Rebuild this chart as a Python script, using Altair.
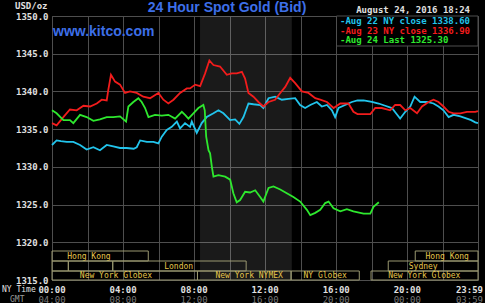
import altair as alt
import pandas as pd

# ---------------- data ----------------
aug22_h = [0.0, 0.26, 0.5, 0.83, 1.2, 1.58, 1.95, 2.33, 2.7, 3.08, 3.45, 3.83, 4.2, 4.6, 4.77, 4.96,
           5.34, 5.71, 5.99, 6.18, 6.46, 6.74, 7.03, 7.21, 7.49, 7.77, 7.87, 8.15, 8.43, 8.71, 9.09,
           9.37, 9.65, 10.03, 10.31, 10.55, 10.78, 11.06, 11.34, 11.72, 11.9, 12.19, 12.56, 12.94,
           13.31, 13.69, 13.97, 14.25, 14.54, 14.91, 15.19, 15.48, 15.76, 15.94, 16.13, 16.5, 16.88,
           17.2, 17.54, 18.01, 18.39, 18.76, 19.14, 19.4, 19.6, 19.89, 20.17, 20.41, 20.73, 21.11,
           21.48, 21.76, 22.04, 22.33, 22.61, 22.99, 23.36, 23.6, 23.83, 23.98]
aug22_v = [1332.9, 1333.5, 1333.4, 1333.3, 1333.3, 1332.9, 1332.3, 1332.6, 1332.2, 1332.9, 1332.7,
           1332.5, 1332.5, 1332.4, 1332.6, 1333.5, 1333.3, 1333.3, 1333.1, 1334.0, 1334.9, 1335.3,
           1336.0, 1335.1, 1335.8, 1335.3, 1336.0, 1334.5, 1335.8, 1336.6, 1337.1, 1337.5, 1337.1,
           1336.2, 1336.3, 1335.7, 1336.6, 1338.4, 1338.3, 1338.2, 1337.8, 1339.1, 1339.3, 1338.9,
           1339.0, 1339.1, 1338.2, 1337.8, 1338.2, 1338.6, 1338.0, 1338.2, 1337.5, 1336.6, 1337.8,
           1338.2, 1338.6, 1338.8, 1338.8, 1338.6, 1338.4, 1338.1, 1337.8, 1337.0, 1336.4, 1337.3,
           1338.0, 1339.3, 1338.6, 1338.6, 1338.4, 1338.0, 1337.5, 1336.6, 1336.9, 1336.7, 1336.4,
           1336.2, 1335.9, 1335.8]

aug23_h = [0.0, 0.26, 0.64, 1.01, 1.39, 1.77, 2.14, 2.52, 2.8, 3.08, 3.17, 3.32, 3.55, 3.83, 4.11,
           4.39, 4.77, 5.14, 5.52, 5.99, 6.27, 6.55, 6.84, 7.21, 7.59, 7.77, 8.06, 8.34, 8.62, 8.86,
           9.09, 9.46, 9.84, 10.12, 10.4, 10.69, 10.87, 11.06, 11.34, 11.62, 11.9, 12.19, 12.56,
           12.85, 13.13, 13.41, 13.69, 14.07, 14.44, 14.82, 15.1, 15.48, 15.85, 16.23, 16.69, 16.97,
           17.2, 17.45, 17.92, 18.2, 18.57, 19.04, 19.32, 19.6, 19.89, 20.17, 20.55, 20.83, 21.2,
           21.48, 21.76, 22.04, 22.33, 22.61, 22.99, 23.36, 23.83, 23.98]
aug23_v = [1335.8, 1335.5, 1336.6, 1337.6, 1337.5, 1338.1, 1338.0, 1338.4, 1338.9, 1338.8, 1340.2,
           1342.2, 1341.3, 1340.9, 1339.8, 1340.0, 1339.8, 1339.3, 1339.1, 1339.8, 1338.9, 1338.4,
           1338.9, 1339.8, 1340.4, 1340.4, 1340.9, 1340.7, 1342.4, 1344.1, 1343.5, 1343.3, 1342.2,
           1342.4, 1342.4, 1342.6, 1341.7, 1339.8, 1339.3, 1338.6, 1338.0, 1338.6, 1338.9, 1339.8,
           1340.6, 1341.8, 1341.1, 1340.0, 1339.8, 1339.1, 1338.9, 1338.6, 1337.8, 1338.4, 1338.4,
           1337.3, 1337.0, 1337.0, 1337.0, 1337.8, 1337.8, 1337.5, 1338.2, 1338.2, 1337.5, 1337.8,
           1337.1, 1338.0, 1338.6, 1338.9, 1338.6, 1338.0, 1337.3, 1337.1, 1337.1, 1337.3, 1337.3,
           1337.4]

aug24_h = [0.0, 0.26, 0.64, 1.01, 1.2, 1.58, 1.95, 2.33, 2.7, 3.08, 3.45, 3.83, 4.17, 4.3, 4.58,
           4.86, 5.05, 5.24, 5.43, 5.8, 6.18, 6.55, 6.93, 7.31, 7.49, 7.68, 7.96, 8.24, 8.52, 8.6,
           8.68, 8.81, 8.9, 9.0, 9.09, 9.37, 9.75, 10.03, 10.21, 10.4, 10.59, 10.87, 11.15, 11.44,
           11.72, 11.9, 12.19, 12.47, 12.85, 13.22, 13.59, 13.97, 14.35, 14.54, 14.82, 15.1, 15.38,
           15.57, 15.85, 16.23, 16.6, 16.97, 17.54, 17.92, 18.1, 18.4]
aug24_v = [1337.5, 1337.1, 1336.2, 1336.2, 1335.8, 1336.9, 1336.6, 1336.1, 1336.3, 1336.6, 1336.6,
           1336.7, 1336.0, 1338.0, 1338.6, 1339.1, 1338.6, 1337.8, 1336.6, 1336.9, 1336.8, 1336.9,
           1336.4, 1337.3, 1336.9, 1336.4, 1337.1, 1337.8, 1338.2, 1337.5, 1334.0, 1332.2, 1331.8,
           1330.0, 1328.7, 1328.9, 1328.7, 1328.3, 1326.5, 1325.3, 1325.6, 1326.7, 1326.6, 1326.9,
           1326.0, 1325.4, 1327.2, 1327.4, 1327.0, 1326.5, 1326.0, 1325.4, 1324.3, 1323.6, 1323.9,
           1324.3, 1325.2, 1325.4, 1324.5, 1324.1, 1324.4, 1324.1, 1323.8, 1323.8, 1324.7, 1325.3]

series_names = ["Aug 22", "Aug 23", "Aug 24"]
series_colors = ["#22c4ec", "#f21c1c", "#2ee82e"]
legend_labels = ["Aug 22 NY close", "Aug 23 NY close", "Aug 24 Last"]
legend_values = [1338.60, 1336.90, 1325.30]

y_ticks = [1315, 1320, 1325, 1330, 1335, 1340, 1345, 1350]
grid_hours = [0, 2, 4, 6, 8, 10, 12, 14, 16, 18, 20, 22]
label_hours = [0, 4, 8, 12, 16, 20, 23.983]
ny_labels = ["00:00", "04:00", "08:00", "12:00", "16:00", "20:00", "23:59"]
gmt_labels = ["04:00", "08:00", "12:00", "16:00", "20:00", "00:00", "03:59"]

comex_start, comex_end = 8.333, 13.5

# sessions: row, start, end, label, label centre (hours)
sess_row = [1, 1, 2, 2, 2, 2, 3, 3, 3, 3]
sess_start = [0.0, 20.45, 0.0, 0.92, 3.42, 18.93, 0.0, 8.19, 13.46, 17.96]
sess_end = [5.42, 23.983, 0.92, 3.42, 10.93, 23.983, 8.19, 13.46, 17.3, 23.983]
sess_label = ["Hong Kong", "Hong Kong", "", "", "London", "Sydney",
              "New York Globex", "New York NYMEX", "NY Globex", "New York Globex"]
sess_label_h = [2.08, 22.25, 0.46, 2.17, 7.13, 20.9, 3.6, 11.1, 15.38, 20.96]

# ---------------- style ----------------
W, H = 426, 264
GRID = "#4e4e4e"
MONO = "DejaVu Sans Mono"
BLUE = "#3d6fe8"
SESS_STROKE = "#9a9870"
SESS_TEXT = "#e6c64c"

XS = alt.Scale(domain=[0, 23.983], nice=False, zero=False)
YS = alt.Scale(domain=[1315, 1350], nice=False, zero=False)
X_AXIS = alt.Axis(values=grid_hours, labels=False, ticks=False, domain=False, grid=True,
                  gridColor=GRID, gridWidth=1, title=None)
Y_AXIS = alt.Axis(values=y_ticks, format=".1f", labelFont=MONO, labelFontSize=9,
                  labelFontWeight="bold", labelColor="#e0e0e0", labelPadding=4, ticks=False,
                  tickSize=0, domain=False, grid=True, gridColor=GRID, gridWidth=1, title=None)

rows = []
for name, hs, vs in [(series_names[0], aug22_h, aug22_v),
                     (series_names[1], aug23_h, aug23_v),
                     (series_names[2], aug24_h, aug24_v)]:
    for h, v in zip(hs, vs):
        rows.append({"series": name, "hour": h, "value": v})
df = pd.DataFrame(rows)

shade = alt.Chart(pd.DataFrame({"a": [comex_start], "b": [comex_end]})).mark_rect(
    color="#ffffff", opacity=0.1).encode(
    x=alt.X("a:Q", scale=XS, axis=X_AXIS), x2="b:Q",
    y=alt.value(0), y2=alt.value(H))

lines = alt.Chart(df).mark_line(strokeWidth=1.8, interpolate="linear").encode(
    x=alt.X("hour:Q", scale=XS, axis=X_AXIS),
    y=alt.Y("value:Q", scale=YS, axis=Y_AXIS),
    color=alt.Color("series:N", scale=alt.Scale(domain=series_names, range=series_colors),
                    legend=None),
    order=alt.Order("hour:Q"))

sess = pd.DataFrame({"row": sess_row, "s": sess_start, "e": sess_end,
                     "label": sess_label, "lh": sess_label_h})
row_top = {1: 235, 2: 245, 3: 255}
row_bot = {1: 245, 2: 255, 3: 264}
sess_layers = []
for r in [1, 2, 3]:
    d = sess[sess["row"] == r]
    sess_layers.append(alt.Chart(d).mark_rect(fill=None, fillOpacity=0, stroke=SESS_STROKE,
                                              strokeWidth=1).encode(
        x=alt.X("s:Q", scale=XS, axis=X_AXIS), x2="e:Q",
        y=alt.value(row_top[r]), y2=alt.value(row_bot[r])))
    sess_layers.append(alt.Chart(d).mark_text(font=MONO, fontSize=8, color=SESS_TEXT,
                                              baseline="middle", align="center").encode(
        x=alt.X("lh:Q", scale=XS, axis=X_AXIS),
        y=alt.value((row_top[r] + row_bot[r]) / 2 + 0.5), text="label:N"))

tl = pd.DataFrame({"h": label_hours, "ny": ny_labels, "gmt": gmt_labels,
                   "last": [False] * 6 + [True]})
ny_txt = alt.Chart(tl).transform_filter("!datum.last").mark_text(
    font=MONO, fontSize=9, fontWeight="bold", color="#e0e0e0", baseline="middle").encode(
    x=alt.X("h:Q", scale=XS, axis=X_AXIS), y=alt.value(273.5), text="ny:N")
ny_last = alt.Chart(tl).transform_filter("datum.last").mark_text(
    font=MONO, fontSize=9, fontWeight="bold", color="#e0e0e0", baseline="middle",
    align="right", dx=5).encode(
    x=alt.X("h:Q", scale=XS, axis=X_AXIS), y=alt.value(273.5), text="ny:N")
gmt_txt = alt.Chart(tl).transform_filter("!datum.last").mark_text(
    font=MONO, fontSize=9, color="#7a7a7a", baseline="middle").encode(
    x=alt.X("h:Q", scale=XS, axis=X_AXIS), y=alt.value(283.5), text="gmt:N")
gmt_last = alt.Chart(tl).transform_filter("datum.last").mark_text(
    font=MONO, fontSize=9, color="#7a7a7a", baseline="middle", align="right", dx=5).encode(
    x=alt.X("h:Q", scale=XS, axis=X_AXIS), y=alt.value(283.5), text="gmt:N")


def label(text, x, y, **kw):
    return alt.Chart(pd.DataFrame({"t": [text]})).mark_text(baseline="middle", **kw).encode(
        x=alt.value(x), y=alt.value(y), text="t:N")


texts = [
    label("24 Hour Spot Gold (Bid)", 175, -8.5, font="Liberation Sans", fontSize=14,
          fontWeight="bold", color=BLUE, align="center"),
    label("www.kitco.com", 1, 16, font="Liberation Sans", fontSize=14, fontWeight="bold",
          color=BLUE, align="left"),
    label("USD/oz", -37, -10.5, font=MONO, fontSize=9, fontWeight="bold", color="#e0e0e0",
          align="left"),
    label("August 24, 2016 18:24", 418, -6, font=MONO, fontSize=9, fontWeight="bold",
          color="#e0e0e0", align="right"),
    label("NY Time", -50, 273.5, font=MONO, fontSize=8, color="#e0e0e0", align="left"),
    label("GMT", -42, 283.5, font=MONO, fontSize=8, color="#9a9a9a", align="left"),
]

legend_box = alt.Chart(pd.DataFrame({"k": [0]})).mark_rect(
    fill="#000000", stroke=GRID, strokeWidth=1).encode(
    x=alt.value(284.5), x2=alt.value(426), y=alt.value(0), y2=alt.value(30))
legend_txt = []
for i, (lab, val, col) in enumerate(zip(legend_labels, legend_values, series_colors)):
    legend_txt.append(label(f"-{lab} {val:.2f}", 288, 5 + i * 9.7, font=MONO, fontSize=9,
                            fontWeight="bold", color=col, align="left"))

chart = alt.layer(shade, lines, *sess_layers, ny_txt, ny_last, gmt_txt, gmt_last,
                  legend_box, *legend_txt, *texts).properties(
    width=W, height=H,
    autosize=alt.AutoSizeParams(type="none"),
    padding={"left": 52, "top": 16, "right": 7, "bottom": 23},
).configure(background="#000000").configure_view(stroke=GRID, strokeWidth=1)

chart.save("out.html", embed_options={"renderer": "svg", "actions": False})
